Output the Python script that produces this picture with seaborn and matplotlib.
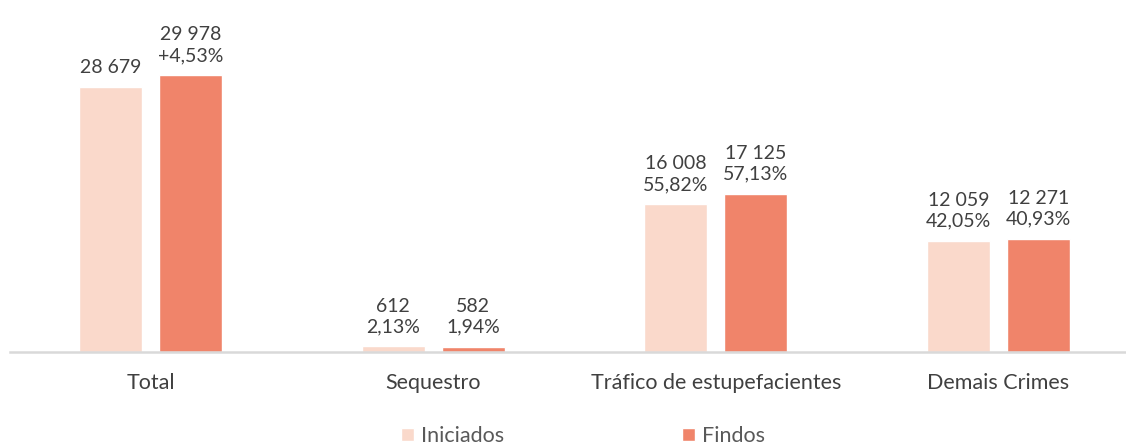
import pandas as pd
import matplotlib.pyplot as plt
import seaborn as sns

categories = ["Total", "Sequestro", "Tráfico de estupefacientes", "Demais Crimes"]
iniciados = [28679, 612, 16008, 12059]
findos = [29978, 582, 17125, 12271]
iniciados_labels = ["28 679", "612\n2,13%", "16 008\n55,82%", "12 059\n42,05%"]
findos_labels = ["29 978\n+4,53%", "582\n1,94%", "17 125\n57,13%", "12 271\n40,93%"]
series = ["Iniciados", "Findos"]
colors = ["#FAD9CB", "#F0846A"]


def build():
    df = pd.DataFrame({
        "Categoria": categories * 2,
        "Serie": ["Iniciados"] * len(categories) + ["Findos"] * len(categories),
        "Valor": iniciados + findos,
    })
    return df


def draw(df):
    sns.set_style("white")
    plt.rcParams['font.family'] = ['Lato', 'DejaVu Sans']
    fig = plt.figure(figsize=(11.26, 4.46), dpi=100)
    ax = fig.add_axes([10 / 1126, 94 / 446, 1116 / 1126, 342 / 446])

    sns.barplot(data=df, x="Categoria", y="Valor", hue="Serie", hue_order=series,
                palette=colors, order=categories, width=0.566, gap=0.212,
                saturation=1, ax=ax, legend=True)

    for cont, labs in zip(ax.containers, [iniciados_labels, findos_labels]):
        ax.bar_label(cont, labels=labs, padding=8, fontsize=14, color="#404040",
                     linespacing=1.25)

    ax.set_xlim(-0.498, 3.452)
    ax.set_ylim(0, 37013)
    ax.set_xlabel("")
    ax.set_ylabel("")
    ax.set_yticks([])
    ax.tick_params(axis="x", length=0, pad=15, labelsize=15.5, labelcolor="#404040")
    for s in ["top", "right", "left"]:
        ax.spines[s].set_visible(False)
    ax.spines["bottom"].set_color("#D9D9D9")
    ax.spines["bottom"].set_linewidth(1.8)

    ax.legend(loc="center", bbox_to_anchor=(583 / 1126, 10 / 446),
              bbox_transform=fig.transFigure, ncol=2, frameon=False,
              fontsize=15.5, labelcolor="#595959", handlelength=0.6,
              handleheight=0.6, handletextpad=0.3, columnspacing=8.3)

    fig.savefig("out.png", dpi=100)


def main():
    df = build()
    draw(df)


if __name__ == "__main__":
    main()
